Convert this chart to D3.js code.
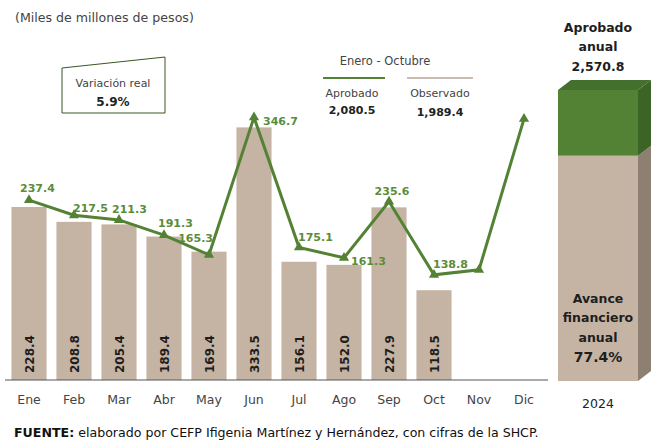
<!DOCTYPE html>
<html>
<head>
<meta charset="utf-8">
<script src="https://cdn.jsdelivr.net/npm/d3@7"></script>
<style>
  body { margin: 0; background: #fff; }
  svg { font-family: "DejaVu Sans", sans-serif; }
</style>
</head>
<body>
<div id="chart"></div>
<script>
// data (miles de millones de pesos)
var months = ["Ene", "Feb", "Mar", "Abr", "May", "Jun", "Jul", "Ago", "Sep", "Oct", "Nov", "Dic"];
var observado = [228.4, 208.8, 205.4, 189.4, 169.4, 333.5, 156.1, 152.0, 227.9, 118.5];
var aprobado = [237.4, 217.5, 211.3, 191.3, 165.3, 346.7, 175.1, 161.3, 235.6, 138.8, 145.5, 344.8];
var aprobadoLabels = ["237.4", "217.5", "211.3", "191.3", "165.3", "346.7", "175.1", "161.3", "235.6", "138.8"];
var totalAprobadoAnual = 2570.8;
var totalObservado = 1989.4;
var totalAprobadoPeriodo = 2080.5;
var variacionReal = "5.9%";
var avance = "77.4%";

// where each green label sits relative to its marker
var labelPlace = [
  ["start", -9, -8], ["start", -1, -3], ["start", -7, -7], ["start", -6, -8],
  ["end", 4, -13], ["start", 9, 8], ["start", -1, -6], ["start", 7, 7],
  ["middle", 3, -7], ["start", -1, -7]
];

var width = 651, height = 443;
var green = "#548235", labelGreen = "#5b8c3a", beige = "#c5b4a3";

var svg = d3.select("#chart").append("svg")
  .attr("width", width).attr("height", height);

var x = d3.scaleBand().domain(months).range([6.5, 546.5]).paddingInner(0.22).paddingOuter(0.11);
var y = d3.scaleLinear().domain([0, 400]).range([380, 77]);

// title
svg.append("text").attr("x", 15).attr("y", 22)
  .attr("font-size", 12.6).attr("fill", "#444")
  .text("(Miles de millones de pesos)");

// bars
svg.selectAll("rect.bar").data(observado).enter().append("rect")
  .attr("class", "bar")
  .attr("x", function (d, i) { return x(months[i]); })
  .attr("y", function (d) { return y(d); })
  .attr("width", x.bandwidth())
  .attr("height", function (d) { return y(0) - y(d); })
  .attr("fill", beige);

svg.selectAll("text.barval").data(observado).enter().append("text")
  .attr("class", "barval")
  .attr("transform", function (d, i) {
    return "translate(" + (x(months[i]) + x.bandwidth() / 2 + 4.5) + "," + (y(0) - 7) + ") rotate(-90)";
  })
  .attr("font-size", 12).attr("font-weight", "bold").attr("fill", "#1e1e1e")
  .text(function (d) { return d.toFixed(1); });

// axis
var axis = d3.axisBottom(x).tickSize(0).tickPadding(15);
var gx = svg.append("g").attr("transform", "translate(0," + y(0) + ")").call(axis);
gx.select(".domain").attr("d", "M5,0H548").attr("stroke", "#555").attr("stroke-width", 1);
gx.selectAll("text").attr("font-size", 12.5).attr("fill", "#444")
  .attr("font-family", "DejaVu Sans, sans-serif");

// aprobado line
var line = d3.line()
  .x(function (d, i) { return x(months[i]) + x.bandwidth() / 2; })
  .y(function (d) { return y(d); });
svg.append("path").datum(aprobado)
  .attr("d", line).attr("fill", "none")
  .attr("stroke", green).attr("stroke-width", 3);

var tri = d3.symbol().type(d3.symbolTriangle).size(45);
svg.selectAll("path.mark").data(aprobado).enter().append("path")
  .attr("class", "mark")
  .attr("d", tri)
  .attr("transform", function (d, i) {
    return "translate(" + (x(months[i]) + x.bandwidth() / 2) + "," + y(d) + ")";
  })
  .attr("fill", green);

svg.selectAll("text.lineval").data(aprobadoLabels).enter().append("text")
  .attr("class", "lineval")
  .attr("x", function (d, i) { return x(months[i]) + x.bandwidth() / 2 + labelPlace[i][1]; })
  .attr("y", function (d, i) { return y(aprobado[i]) + labelPlace[i][2]; })
  .attr("text-anchor", function (d, i) { return labelPlace[i][0]; })
  .attr("font-size", 11).attr("font-weight", "bold").attr("fill", labelGreen)
  .text(function (d) { return d; });

// variación real box
svg.append("path").attr("d", "M62,68L165,57L165,113L62,113Z")
  .attr("fill", "#fff").attr("stroke", "#385723").attr("stroke-width", 1);
svg.append("text").attr("x", 113).attr("y", 87).attr("text-anchor", "middle")
  .attr("font-size", 11).attr("fill", "#444").text("Variación real");
svg.append("text").attr("x", 113).attr("y", 106).attr("text-anchor", "middle")
  .attr("font-size", 12).attr("font-weight", "bold").attr("fill", "#222").text(variacionReal);

// legend
var fmt = d3.format(",.1f");
svg.append("text").attr("x", 385).attr("y", 65).attr("text-anchor", "middle")
  .attr("font-size", 11.5).attr("fill", "#444").text("Enero - Octubre");
svg.append("line").attr("x1", 323).attr("x2", 385).attr("y1", 78).attr("y2", 78)
  .attr("stroke", green).attr("stroke-width", 2);
svg.append("line").attr("x1", 407).attr("x2", 473).attr("y1", 78).attr("y2", 78)
  .attr("stroke", "#c8bcb0").attr("stroke-width", 2);
svg.append("text").attr("x", 352).attr("y", 97).attr("text-anchor", "middle")
  .attr("font-size", 11).attr("fill", "#444").text("Aprobado");
svg.append("text").attr("x", 352).attr("y", 114).attr("text-anchor", "middle")
  .attr("font-size", 11).attr("font-weight", "bold").attr("fill", "#222").text(fmt(totalAprobadoPeriodo));
svg.append("text").attr("x", 440).attr("y", 97).attr("text-anchor", "middle")
  .attr("font-size", 11).attr("fill", "#444").text("Observado");
svg.append("text").attr("x", 440).attr("y", 116).attr("text-anchor", "middle")
  .attr("font-size", 11).attr("font-weight", "bold").attr("fill", "#222").text(fmt(totalObservado));

// annual 3D column
var ya = d3.scaleLinear().domain([0, totalAprobadoAnual]).range([381, 90]);
var bx0 = 558, bx1 = 638, dx = 13, dy = -10;
var yTop = ya(totalAprobadoAnual), yMid = ya(totalObservado), yBot = ya(0);
function poly(pts) { return "M" + pts.map(function (p) { return p.join(","); }).join("L") + "Z"; }
// side faces
svg.append("path").attr("d", poly([[bx1, yMid], [bx1 + dx, yMid + dy], [bx1 + dx, yBot + dy], [bx1, yBot]]))
  .attr("fill", "#8d7f72");
svg.append("path").attr("d", poly([[bx1, yTop], [bx1 + dx, yTop + dy], [bx1 + dx, yMid + dy], [bx1, yMid]]))
  .attr("fill", "#3d6427");
// top face
svg.append("path").attr("d", poly([[bx0, yTop], [bx0 + dx, yTop + dy], [bx1 + dx, yTop + dy], [bx1, yTop]]))
  .attr("fill", "#456f2d");
// front faces
svg.append("rect").attr("x", bx0).attr("y", yTop).attr("width", bx1 - bx0).attr("height", yMid - yTop)
  .attr("fill", green);
svg.append("rect").attr("x", bx0).attr("y", yMid).attr("width", bx1 - bx0).attr("height", yBot - yMid)
  .attr("fill", beige);

var cx = 598;
[["Aprobado", 32], ["anual", 51], [fmt(totalAprobadoAnual), 71]].forEach(function (t) {
  svg.append("text").attr("x", cx).attr("y", t[1]).attr("text-anchor", "middle")
    .attr("font-size", 12.5).attr("font-weight", "bold").attr("fill", "#1e1e1e").text(t[0]);
});
[["Avance", 303], ["financiero", 322], ["anual", 342], [avance, 362]].forEach(function (t) {
  svg.append("text").attr("x", cx).attr("y", t[1]).attr("text-anchor", "middle")
    .attr("font-size", t[0] === avance ? 14 : 12.5).attr("font-weight", "bold").attr("fill", "#1e1e1e").text(t[0]);
});
svg.append("text").attr("x", cx).attr("y", 408).attr("text-anchor", "middle")
  .attr("font-size", 12.5).attr("fill", "#222").text("2024");

// source
var src = svg.append("text").attr("x", 14).attr("y", 437).attr("font-size", 12.6).attr("fill", "#111");
src.append("tspan").attr("font-weight", "bold").text("FUENTE:");
src.append("tspan").text(" elaborado por CEFP Ifigenia Martínez y Hernández, con cifras de la SHCP.");
</script>
</body>
</html>
